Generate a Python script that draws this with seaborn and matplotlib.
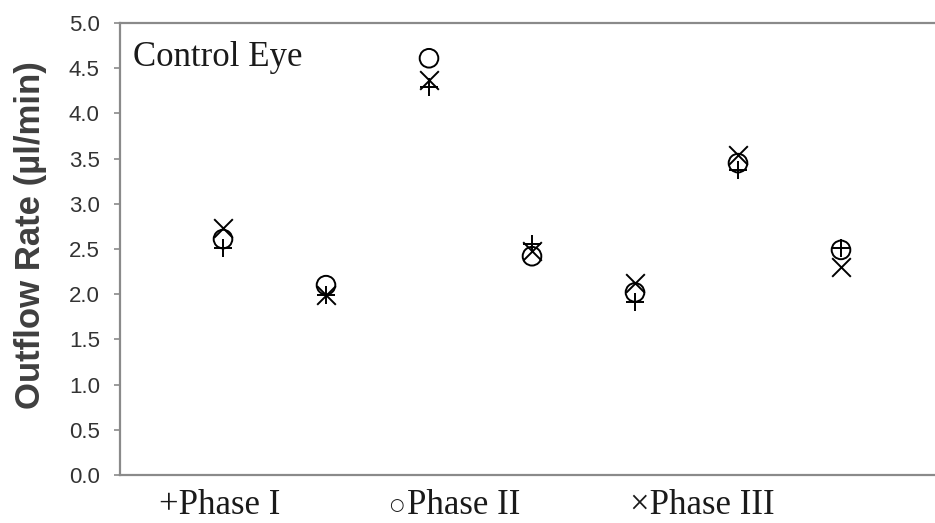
import pandas as pd
import matplotlib
matplotlib.use("Agg")
import matplotlib.pyplot as plt
import seaborn as sns

sns.set_theme(style="white")

# eyes (positions along x) and outflow rates per phase
eyes = [1, 2, 3, 4, 5, 6, 7]
phase1 = [2.51, 1.99, 4.29, 2.56, 1.91, 3.37, 2.51]
phase2 = [2.61, 2.10, 4.61, 2.42, 2.02, 3.45, 2.49]
phase3 = [2.73, 1.99, 4.37, 2.48, 2.12, 3.54, 2.30]
phases = ["Phase I", "Phase II", "Phase III"]
yticks = [0.0, 0.5, 1.0, 1.5, 2.0, 2.5, 3.0, 3.5, 4.0, 4.5, 5.0]

df = pd.DataFrame({
    "Eye": eyes * 3,
    "Rate": phase1 + phase2 + phase3,
    "Phase": [p for p in phases for _ in eyes],
})

fig = plt.figure(figsize=(9.35, 5.23), dpi=100)
ax = fig.add_axes([120 / 935, 48 / 523, 824 / 935, 452 / 523])

marker_kw = {
    "Phase I": dict(marker="+", color="black"),
    "Phase II": dict(marker="o", facecolors="none", edgecolor="black"),
    "Phase III": dict(marker="x", color="black"),
}
for p in phases:
    sub = df[df["Phase"] == p]
    sns.scatterplot(data=sub, x="Eye", y="Rate", ax=ax, s=180, linewidth=1.4,
                    legend=False, zorder=3, **marker_kw[p])

ax.set_xlim(0, 8)
ax.set_ylim(0, 5)
ax.set_yticks(yticks)
ax.set_yticklabels([f"{v:.1f}" for v in yticks], fontfamily="Liberation Sans",
                   fontsize=16, color="#333333")
ax.set_xticks([])
ax.set_xlabel("")
ax.set_ylabel("Outflow Rate (\u00b5l/min)", fontfamily="Liberation Sans",
              fontsize=25, fontweight="bold", color="#3f3f3f")
ax.yaxis.set_label_coords(-0.088, 0.53)
ax.tick_params(axis="y", left=True, length=4.5, width=1.2, color="#8a8a8a", pad=10)

for side in ["left", "top", "bottom"]:
    ax.spines[side].set_color("#8a8a8a")
    ax.spines[side].set_linewidth(1.6)
ax.spines["right"].set_visible(False)

ax.text(0.016, 0.96, "Control Eye", transform=ax.transAxes, ha="left", va="top",
        fontfamily="Liberation Serif", fontsize=25, color="#1a1a1a")

# legend written as text under the axis
legend_y = 1 - 505 / 523
serif = ["Liberation Serif", "DejaVu Serif"]
fig.text(159 / 935, legend_y, "+Phase I", ha="left", va="center",
         family=serif, fontsize=25, color="#1a1a1a")
fig.text(389 / 935, legend_y, "\u25cb", ha="left", va="center",
         family=["DejaVu Sans"], fontsize=12, color="#1a1a1a")
fig.text(407 / 935, legend_y, "Phase II", ha="left", va="center",
         family=serif, fontsize=25, color="#1a1a1a")
fig.text(630 / 935, legend_y, "\u00d7Phase III", ha="left", va="center",
         family=serif, fontsize=25, color="#1a1a1a")

fig.savefig("out.png", dpi=100)
